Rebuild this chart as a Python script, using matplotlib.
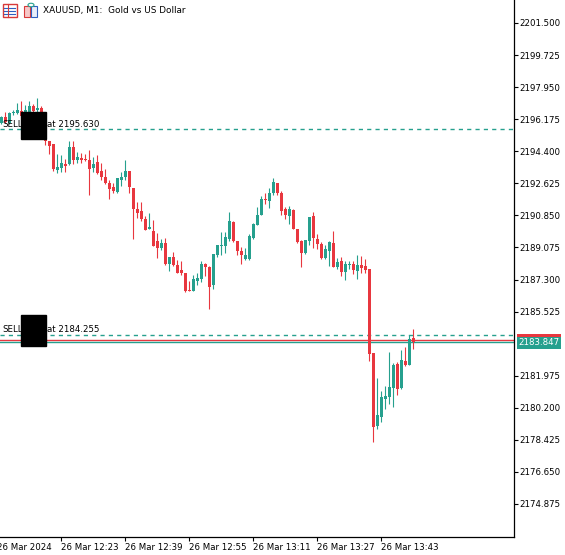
import matplotlib
matplotlib.use('Agg')
import matplotlib.pyplot as plt
from matplotlib.patches import Rectangle, Ellipse
from matplotlib.lines import Line2D
import numpy as np

plt.rcParams['font.family'] = ['DejaVu Sans']

# ---------------- data (XAUUSD M1, 26 Mar 2024 12:08 .. 13:51) ----------------
opens = [2195.97, 2196.30, 2195.97, 2196.52, 2196.52, 2196.63, 2196.35, 2196.57, 2196.91, 2196.68,
         2196.80, 2196.24, 2194.97, 2194.80, 2193.36, 2193.47, 2193.70, 2193.70, 2194.64, 2193.92,
         2194.03, 2193.97, 2193.92, 2193.47, 2193.81, 2193.31, 2192.97, 2192.64, 2192.42, 2192.15,
         2192.81, 2192.97, 2193.31, 2192.37, 2191.20, 2191.09, 2190.65, 2190.10, 2189.99, 2189.43,
         2189.05, 2189.32, 2188.16, 2188.55, 2188.11, 2187.83, 2187.66, 2186.72, 2186.67, 2187.22,
         2187.33, 2188.16, 2187.99, 2187.00, 2188.66, 2189.16, 2189.16, 2189.54, 2190.49, 2189.43,
         2188.88, 2188.44, 2188.44, 2189.60, 2190.32, 2190.87, 2191.76, 2191.65, 2192.09, 2192.64,
         2192.09, 2191.20, 2190.82, 2191.15, 2190.10, 2189.43, 2188.77, 2189.43, 2190.82, 2189.54,
         2189.27, 2188.49, 2188.88, 2189.32, 2187.99, 2188.33, 2187.72, 2188.11, 2188.16, 2187.77,
         2188.11, 2188.05, 2187.88, 2183.23, 2179.19, 2179.69, 2180.69, 2180.80, 2181.30, 2182.62,
         2181.30, 2182.79, 2182.57, 2184.06]
highs = [2196.35, 2196.57, 2196.57, 2196.68, 2197.07, 2197.18, 2196.96, 2197.18, 2197.02, 2197.35,
         2196.91, 2196.35, 2194.97, 2194.80, 2194.25, 2194.19, 2193.97, 2194.97, 2194.97, 2194.36,
         2194.30, 2194.25, 2194.47, 2194.08, 2194.19, 2193.75, 2193.42, 2192.81, 2192.64, 2192.92,
         2193.25, 2193.92, 2193.31, 2192.37, 2191.59, 2191.59, 2190.82, 2190.98, 2190.60, 2189.87,
         2189.54, 2189.60, 2188.55, 2188.82, 2188.38, 2188.33, 2187.66, 2187.22, 2187.55, 2187.66,
         2188.33, 2188.22, 2188.05, 2188.71, 2189.21, 2189.93, 2189.93, 2191.04, 2190.54, 2189.43,
         2189.10, 2189.05, 2189.82, 2190.43, 2191.32, 2191.92, 2192.09, 2192.37, 2192.92, 2192.64,
         2192.20, 2191.32, 2191.37, 2191.20, 2190.10, 2189.49, 2189.49, 2190.76, 2191.04, 2189.82,
         2189.38, 2189.21, 2189.43, 2189.99, 2188.49, 2188.55, 2188.33, 2188.33, 2188.33, 2188.66,
         2188.60, 2188.44, 2187.88, 2183.23, 2181.85, 2181.13, 2181.41, 2183.29, 2182.68, 2182.74,
         2183.40, 2183.57, 2184.23, 2184.56]
lows = [2195.91, 2195.97, 2195.91, 2196.41, 2196.46, 2196.24, 2196.24, 2196.46, 2196.57, 2196.52,
        2196.13, 2194.75, 2194.25, 2193.31, 2193.20, 2193.25, 2193.25, 2193.64, 2193.70, 2193.75,
        2193.75, 2193.86, 2191.98, 2193.25, 2193.14, 2192.81, 2192.59, 2191.76, 2192.09, 2192.09,
        2192.48, 2192.81, 2192.09, 2189.54, 2190.71, 2190.54, 2190.04, 2190.08, 2189.16, 2188.49,
        2188.94, 2188.10, 2187.77, 2188.05, 2187.66, 2187.55, 2186.61, 2186.67, 2186.67, 2187.00,
        2187.16, 2187.50, 2185.67, 2186.78, 2188.55, 2188.66, 2188.77, 2189.43, 2189.38, 2188.66,
        2188.16, 2188.38, 2188.38, 2189.54, 2190.32, 2190.87, 2191.48, 2191.26, 2191.98, 2191.98,
        2190.87, 2190.65, 2190.37, 2190.10, 2189.32, 2187.99, 2188.71, 2189.21, 2189.05, 2188.99,
        2188.44, 2188.44, 2188.05, 2187.99, 2187.88, 2187.50, 2187.27, 2187.88, 2187.61, 2187.33,
        2187.66, 2187.66, 2182.79, 2178.31, 2179.03, 2179.41, 2180.13, 2180.41, 2180.24, 2180.91,
        2181.24, 2182.51, 2182.57, 2183.45]
closes = [2196.30, 2196.02, 2196.52, 2196.57, 2196.68, 2196.35, 2196.68, 2196.91, 2196.63, 2196.80,
          2196.24, 2194.97, 2194.69, 2193.42, 2193.53, 2193.75, 2193.59, 2194.64, 2193.92, 2194.08,
          2193.92, 2193.92, 2193.42, 2193.70, 2193.20, 2192.97, 2192.64, 2192.31, 2192.20, 2192.92,
          2192.97, 2193.31, 2192.42, 2191.20, 2190.98, 2190.65, 2190.04, 2190.21, 2189.16, 2189.05,
          2189.32, 2188.16, 2188.55, 2188.11, 2187.66, 2187.66, 2186.67, 2186.67, 2187.33, 2187.38,
          2188.16, 2187.99, 2186.89, 2188.71, 2189.21, 2189.21, 2189.65, 2190.54, 2189.43, 2188.88,
          2188.66, 2188.66, 2189.71, 2190.37, 2190.87, 2191.76, 2191.70, 2192.09, 2192.70, 2192.09,
          2191.09, 2190.87, 2191.20, 2190.10, 2189.38, 2188.77, 2189.49, 2190.76, 2189.60, 2189.27,
          2188.49, 2188.99, 2189.38, 2187.99, 2188.27, 2187.72, 2188.16, 2188.16, 2187.83, 2188.11,
          2187.94, 2187.83, 2183.18, 2179.14, 2179.80, 2180.80, 2180.85, 2181.35, 2182.57, 2181.24,
          2182.85, 2182.57, 2184.01, 2183.847]

sell_prices = [2195.630, 2184.255]
sell_labels = ['at 2195.630', 'at 2184.255']
bid_price = 2183.847
ask_price = 2183.96

ytick_vals = [2174.875, 2176.650, 2178.425, 2180.200, 2181.975, 2185.525, 2187.300,
              2189.075, 2190.850, 2192.625, 2194.400, 2196.175, 2197.950, 2199.725, 2201.500]
ytick_labels = ['2174.875', '2176.650', '2178.425', '2180.200', '2181.975', '2185.525',
                '2187.300', '2189.075', '2190.850', '2192.625', '2194.400', '2196.175', '2197.950',
                '2199.725', '2201.500']
xtick_pos = [-1, 15, 31, 47, 63, 79, 95]
xtick_labels = ['26 Mar 2024', '26 Mar 12:23', '26 Mar 12:39', '26 Mar 12:55',
                '26 Mar 13:11', '26 Mar 13:27', '26 Mar 13:43']
title = 'XAUUSD, M1:  Gold vs US Dollar'

GREEN = '#26a08e'
RED = '#e8373f'

# ---------------- figure ----------------
W, H = 565, 555
fig = plt.figure(figsize=(W / 100, H / 100), dpi=100)
ax = fig.add_axes([0, 18 / H, 514 / W, 537 / H])
ax.set_xlim(-0.325, 128.175)
ax.set_ylim(2173.048, 2202.773)

o = np.array(opens); c = np.array(closes); hi = np.array(highs); lo = np.array(lows)
x = np.arange(len(o))
up = c >= o
cols = np.where(up, GREEN, RED)
ax.vlines(x, lo, hi, colors=cols, lw=0.8, zorder=3)
ax.bar(x, np.maximum(np.abs(c - o), 0.06), bottom=np.minimum(o, c), width=0.75,
       color=cols, linewidth=0, zorder=3)

for p in sell_prices:
    ax.axhline(p, color=GREEN, lw=1.0, linestyle=(0, (3, 3)), zorder=2)
ax.axhline(ask_price, color=RED, lw=1.0, zorder=2)
ax.axhline(bid_price, color=GREEN, lw=1.0, zorder=2)

for p, lab in zip(sell_prices, sell_labels):
    ax.annotate('SELL', xy=(0, p), xycoords=('axes fraction', 'data'), xytext=(1.6, 1.8),
                textcoords='offset points', fontsize=6.2, va='baseline', ha='left', zorder=4)
    ax.annotate(lab, xy=(0, p), xycoords=('axes fraction', 'data'), xytext=(33.8, 1.8),
                textcoords='offset points', fontsize=6.2, va='baseline', ha='left', zorder=4)

# spines
for s in ['top', 'left']:
    ax.spines[s].set_visible(False)
for s in ['right', 'bottom']:
    ax.spines[s].set_color('black')
    ax.spines[s].set_linewidth(0.9)

ax.yaxis.tick_right()
ax.set_yticks(ytick_vals)
ax.set_yticklabels(ytick_labels)
ax.tick_params(axis='y', direction='out', length=3.0, width=0.8, pad=1.2, labelsize=6.2,
               colors='black')
ax.set_xticks(xtick_pos[1:])
ax.set_xticklabels(xtick_labels[1:])
ax.tick_params(axis='x', direction='out', length=3.0, width=0.8, pad=1.3, labelsize=6.2,
               colors='black')
for t in ax.get_xticklabels():
    t.set_horizontalalignment('left')
ax.annotate(xtick_labels[0], xy=(xtick_pos[0], 0), xycoords=('data', 'axes fraction'),
            xytext=(0, -4.3), textcoords='offset points', fontsize=6.2, ha='left', va='top',
            annotation_clip=False)

# censor boxes
fig.add_artist(Rectangle((21 / W, 1 - 139 / H), 25 / W, 27 / H, transform=fig.transFigure,
                         color='black', zorder=6))
fig.add_artist(Rectangle((21 / W, 1 - 346 / H), 25 / W, 31 / H, transform=fig.transFigure,
                         color='black', zorder=6))

# current price label
fig.add_artist(Rectangle((517 / W, 1 - 348.5 / H), 44 / W, 12 / H, transform=fig.transFigure,
                         color=GREEN, zorder=6, lw=0))
fig.add_artist(Rectangle((517 / W, 1 - 336.7 / H), 44 / W, 2.3 / H, transform=fig.transFigure,
                         color=RED, zorder=6, lw=0))
fig.text(539 / W, 1 - 342.6 / H, '%.3f' % bid_price, color='white', fontsize=6.2,
         ha='center', va='center', zorder=7)

# title & icons
fig.text(43 / W, 1 - 10 / H, title, fontsize=6.4, ha='left', va='center')
fig.add_artist(Rectangle((2.5 / W, 1 - 17 / H), 14 / W, 13 / H, transform=fig.transFigure,
                         facecolor='white', edgecolor='#d83a3a', lw=1.0, zorder=6))
fig.add_artist(Line2D([7.5 / W, 7.5 / W], [1 - 17 / H, 1 - 4 / H], transform=fig.transFigure,
                      color='#d83a3a', lw=0.8, zorder=7))
for yy in [7.5, 10.5, 13.5]:
    fig.add_artist(Line2D([4 / W, 6.5 / W], [1 - yy / H, 1 - yy / H], transform=fig.transFigure,
                          color='#2f5fc0', lw=0.8, zorder=7))
    fig.add_artist(Line2D([9 / W, 15 / W], [1 - yy / H, 1 - yy / H], transform=fig.transFigure,
                          color='#2f5fc0', lw=0.8, zorder=7))
fig.add_artist(Rectangle((23.5 / W, 1 - 17 / H), 6 / W, 11 / H, transform=fig.transFigure,
                         facecolor='#f6c8c8', edgecolor='#d83a3a', lw=0.8, zorder=6))
fig.add_artist(Rectangle((30.5 / W, 1 - 17 / H), 6 / W, 11 / H, transform=fig.transFigure,
                         facecolor='#e8eefa', edgecolor='#2f5fc0', lw=0.8, zorder=6))
fig.add_artist(Ellipse((31 / W, 1 - 5 / H), 6 / W, 3.5 / H, transform=fig.transFigure,
                       facecolor='white', edgecolor='#26a08e', lw=0.8, zorder=7))

fig.savefig('out.png', dpi=100, facecolor='white')
